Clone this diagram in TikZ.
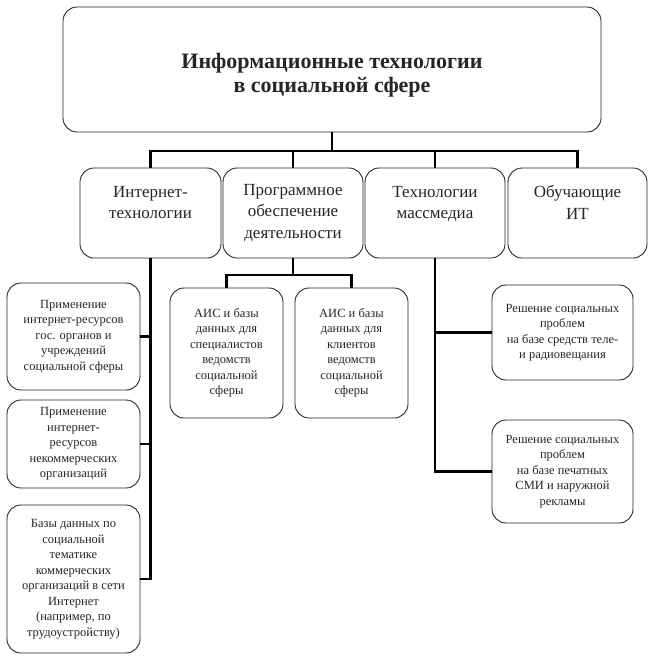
\documentclass[tikz,border=0pt]{standalone}
\usepackage{fontspec}
\setmainfont{Liberation Serif}
\begin{document}
\begin{tikzpicture}[x=1pt,y=-1pt,
    blk/.style={draw=black!85,line width=0.9pt,rounded corners=14pt,align=center,
                inner sep=2pt,text=black!85},
    midblk/.style={blk,minimum height=90,font=\fontsize{17}{21.5}\selectfont},
    smallblk/.style={blk,font=\fontsize{12.5}{15.5}\selectfont},
    conn/.style={line width=2.6pt,line join=miter}]
    \useasboundingbox (0,0) rectangle (652,657);
    \node[blk,minimum width=538,minimum height=125,font=\fontsize{22}{24}\selectfont\bfseries]
        (top) at (332,69.5) {\rule{0pt}{26pt}Информационные технологии\\в социальной сфере};
    % second level
    \node[midblk,minimum width=141] (inet) at (150.5,213) {Интернет-\\технологии\\~};
    \node[midblk,minimum width=140] (prog) at (293,213) {Программное\\обеспечение\\деятельности};
    \node[midblk,minimum width=140] (mass) at (435,213) {Технологии\\массмедиа\\~};
    \node[midblk,minimum width=139] (obuch) at (577.5,213) {Обучающие\\ИТ\\~};
    % internet
    \node[smallblk,minimum width=133,minimum height=107]
        (i1) at (73.5,336.5) {Применение\\интернет-ресурсов\\гос. органов и\\учреждений\\социальной сферы};
    \node[smallblk,minimum width=133,minimum height=88]
        (i2) at (73.5,444) {Применение\\интернет-\\ресурсов\\некоммерческих\\организаций};
    \node[smallblk,minimum width=133,minimum height=148]
        (i3) at (73.5,579) {Базы данных по\\социальной\\тематике\\коммерческих\\организаций в сети\\Интернет\\(например, по\\трудоустройству)};
    % software
    \node[smallblk,minimum width=113,minimum height=130]
        (p1) at (226.5,353) {АИС и базы\\данных для\\специалистов\\ведомств\\социальной\\сферы};
    \node[smallblk,minimum width=113,minimum height=130]
        (p2) at (351.5,353) {АИС и базы\\данных для\\клиентов\\ведомств\\социальной\\сферы};
    % mass media
    \node[smallblk,minimum width=141,minimum height=95]
        (m1) at (562.5,332.5) {Решение социальных\\проблем\\на базе средств теле-\\и радиовещания};
    \node[smallblk,minimum width=141,minimum height=103]
        (m2) at (562.5,471.5) {Решение социальных\\проблем\\на базе печатных\\СМИ и наружной\\рекламы};
    % connectors
    \draw[conn] (top.south) -- ++(0,18.5) coordinate (bus);
    \draw[conn] (bus) -| (inet.north);
    \draw[conn] (bus) -| (prog.north);
    \draw[conn] (bus) -| (mass.north);
    \draw[conn] (bus) -| (obuch.north);
    \draw[conn] (inet.south) |- (i1.east);
    \draw[conn] (inet.south) |- (i2.east);
    \draw[conn] (inet.south) |- (i3.east);
    \draw[conn] (prog.south) -- ++(0,16.5) coordinate (pbus);
    \draw[conn] (pbus) -| (p1.north);
    \draw[conn] (pbus) -| (p2.north);
    \draw[conn] (mass.south) |- (m1.west);
    \draw[conn] (mass.south) |- (m2.west);
  \end{tikzpicture}
\end{document}
